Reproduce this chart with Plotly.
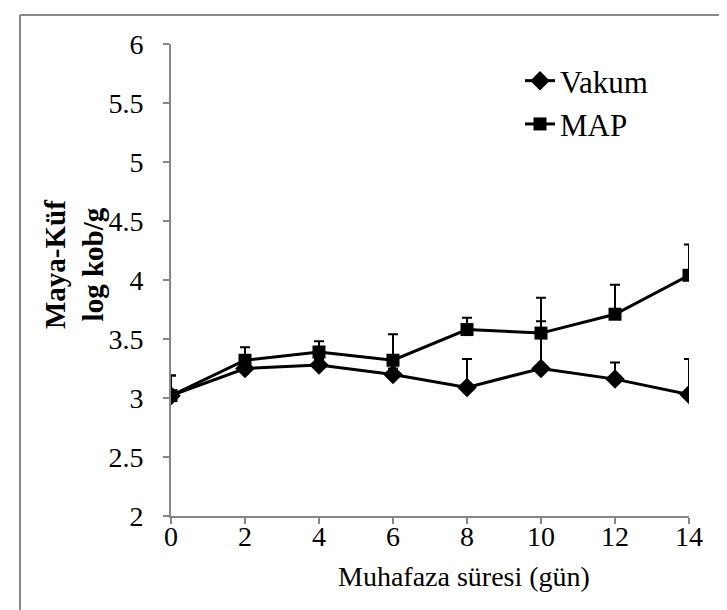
import plotly.graph_objects as go

days = [0, 2, 4, 6, 8, 10, 12, 14]
vakum = [3.02, 3.25, 3.28, 3.20, 3.09, 3.25, 3.16, 3.03]
vakum_err = [0.17, 0.05, 0.05, 0.05, 0.24, 0.40, 0.14, 0.30]
map_vals = [3.02, 3.32, 3.39, 3.32, 3.58, 3.55, 3.71, 4.04]
map_err = [0.17, 0.11, 0.09, 0.22, 0.10, 0.30, 0.25, 0.26]
zeros = [0] * len(days)

x_ticks = [0, 2, 4, 6, 8, 10, 12, 14]
y_ticks = [2, 2.5, 3, 3.5, 4, 4.5, 5, 5.5, 6]
y_tick_text = ["2", "2.5", "3", "3.5", "4", "4.5", "5", "5.5", "6"]

FONT = "Liberation Serif, Times New Roman, serif"
FS = 28

fig = go.Figure()
fig.add_trace(go.Scatter(
    x=days, y=vakum, name="Vakum", mode="lines+markers",
    line=dict(color="black", width=3),
    marker=dict(symbol="diamond", size=15, color="black"),
    error_y=dict(type="data", array=vakum_err, arrayminus=zeros, symmetric=False,
                 color="black", thickness=2, width=5),
))
fig.add_trace(go.Scatter(
    x=days, y=map_vals, name="MAP", mode="lines+markers",
    line=dict(color="black", width=3),
    marker=dict(symbol="square", size=13, color="black"),
    error_y=dict(type="data", array=map_err, arrayminus=zeros, symmetric=False,
                 color="black", thickness=2, width=5),
))

axis_col = "#878787"
fig.update_layout(
    width=727, height=610,
    margin=dict(l=163, r=46, t=36, b=102),
    paper_bgcolor="white", plot_bgcolor="white",
    font=dict(family=FONT, size=FS, color="black"),
    showlegend=True,
    legend=dict(x=(512 - 163) / 518, y=(508 - 46) / 472, xanchor="left", yanchor="top",
                font=dict(family=FONT, size=31, color="black"),
                bgcolor="rgba(0,0,0,0)", tracegroupgap=8),
    xaxis=dict(range=[0, 14], tickmode="array", tickvals=x_ticks,
               showline=True, linecolor=axis_col, linewidth=2,
               ticks="outside", tickcolor=axis_col, ticklen=6, tickwidth=2,
               showgrid=False, zeroline=False, ticklabelstandoff=-12,
               tickfont=dict(family=FONT, size=FS, color="black")),
    yaxis=dict(range=[2, 6], tickmode="array", tickvals=y_ticks, ticktext=y_tick_text,
               showline=True, linecolor=axis_col, linewidth=2,
               ticks="outside", tickcolor=axis_col, ticklen=6, tickwidth=2,
               showgrid=False, zeroline=False, ticklabelstandoff=14,
               tickfont=dict(family=FONT, size=FS, color="black")),
    annotations=[
        dict(text="<b>Maya-Küf</b><br><b>log kob/g</b>", textangle=-90,
             xref="paper", yref="paper", x=(66 - 163) / 518, y=(508 - 257) / 472,
             xanchor="center", yanchor="middle", showarrow=False,
             font=dict(family=FONT, size=29, color="black")),
        dict(text="Muhafaza süresi (gün)",
             xref="paper", yref="paper", x=(456 - 163) / 518, y=(508 - 568) / 472,
             xanchor="center", yanchor="middle", showarrow=False,
             font=dict(family=FONT, size=FS, color="black")),
    ],
    shapes=[
        dict(type="line", xref="paper", yref="paper",
             x0=(12 - 163) / 518, x1=(720 - 163) / 518,
             y0=(508 - 7) / 472, y1=(508 - 7) / 472,
             line=dict(color=axis_col, width=2)),
        dict(type="line", xref="paper", yref="paper",
             x0=(12 - 163) / 518, x1=(12 - 163) / 518,
             y0=(508 - 7) / 472, y1=(508 - 612) / 472,
             line=dict(color=axis_col, width=2)),
    ],
)

fig.write_html("out.html")
